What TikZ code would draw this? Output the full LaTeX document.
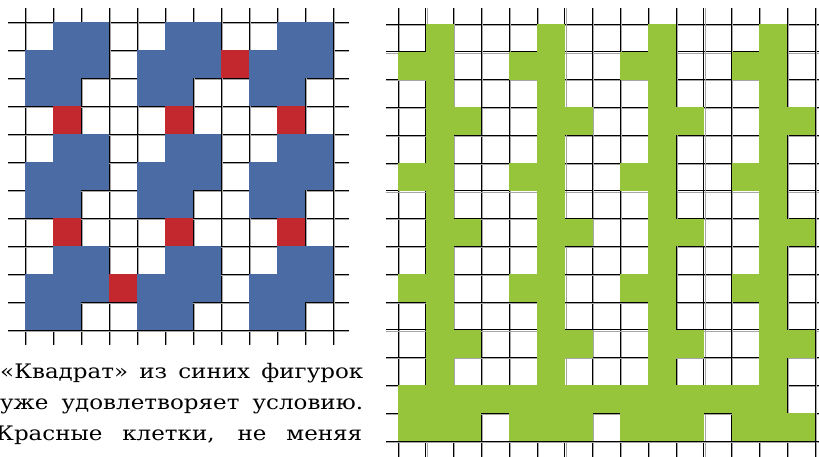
\documentclass[tikz,border=0pt]{standalone}
\usepackage{fontspec}
\setmainfont{DejaVu Serif}[FakeStretch=1.15]
\definecolor{azulcelda}{HTML}{4A6BA4}
\definecolor{rojocelda}{HTML}{C3282F}
\definecolor{verdecelda}{HTML}{96C43B}
\begin{document}
\begin{tikzpicture}[
  x=1pt, y=-1pt,
  azul/.style={fill=azulcelda},
  rojo/.style={fill=rojocelda},
  verde/.style={fill=verdecelda},
  linea/.style={line width=0.9pt, draw=black},
  sombra/.style={line width=0.9pt, draw=black!35},
  texto/.style={anchor=base west, inner sep=0pt, font=\fontsize{20}{31}\selectfont}
]
  \useasboundingbox (0,0) rectangle (819,456);

  % Cuadrícula izquierda (11 x 11)
  \foreach \i in {0,...,11} {
    \draw[sombra] ({26.2+28*\i},8) -- ({26.2+28*\i},345);
    \draw[sombra] (8,{23.2+28*\i}) -- (349,{23.2+28*\i});
    \draw[linea] ({25+28*\i},8) -- ({25+28*\i},345);
    \draw[linea] (8,{22+28*\i}) -- (349,{22+28*\i});
  }

  % Cuadrícula derecha (15 x 15)
  \foreach \i in {0,...,15} {
    \draw[sombra] ({399.2+27.8*\i},8) -- ({399.2+27.8*\i},460);
    \draw[sombra] (386,{25.2+27.8*\i}) -- (822,{25.2+27.8*\i});
    \draw[linea] ({398+27.8*\i},8) -- ({398+27.8*\i},460);
    \draw[linea] (386,{24+27.8*\i}) -- (822,{24+27.8*\i});
  }

  % Figuras azules
  \foreach \r in {0,4,8}
    \foreach \c in {1,2,5,6,9,10}
      \fill[azul] ({25+28*\c},{22+28*\r}) rectangle ++(28,28);
  \foreach \r in {1,5,9}
    \foreach \c in {0,1,2,4,5,6,8,9,10}
      \fill[azul] ({25+28*\c},{22+28*\r}) rectangle ++(28,28);
  \foreach \r in {2,6,10}
    \foreach \c in {0,1,4,5,8,9}
      \fill[azul] ({25+28*\c},{22+28*\r}) rectangle ++(28,28);

  % Celdas rojas
  \foreach \r in {3,7}
    \foreach \c in {1,5,9}
      \fill[rojo] ({25+28*\c},{22+28*\r}) rectangle ++(28,28);
  \fill[rojo] ({25+28*7},{22+28*1}) rectangle ++(28,28);
  \fill[rojo] ({25+28*3},{22+28*9}) rectangle ++(28,28);

  % Peines verdes
  \foreach \c in {1,5,9,13}
    \fill[verde] ({398+27.8*\c},24) rectangle ++(27.8,{27.8*13});
  \foreach \r in {1,5,9}
    \foreach \c in {0,4,8,12}
      \fill[verde] ({398+27.8*\c},{24+27.8*\r}) rectangle ++(27.8,27.8);
  \foreach \r in {3,7,11}
    \foreach \c in {2,6,10,14}
      \fill[verde] ({398+27.8*\c},{24+27.8*\r}) rectangle ++(27.8,27.8);
  \fill[verde] (398,{24+27.8*13}) rectangle ++({27.8*14},27.8);
  \foreach \c in {0,4,8,12}
    \fill[verde] ({398+27.8*\c},{24+27.8*14}) rectangle ++({27.8*3},27.8);

  % Texto
  \node[texto] (frase1) at (0,378) {\makebox[363pt][s]{«Квадрат» из синих фигурок}};
  \node[texto] (frase2) at (0,409) {\makebox[363pt][s]{уже удовлетворяет условию.}};
  \node[texto] (frase3) at (-4,440) {\makebox[366pt][s]{Красные клетки, не меняя}};

\end{tikzpicture}
\end{document}
